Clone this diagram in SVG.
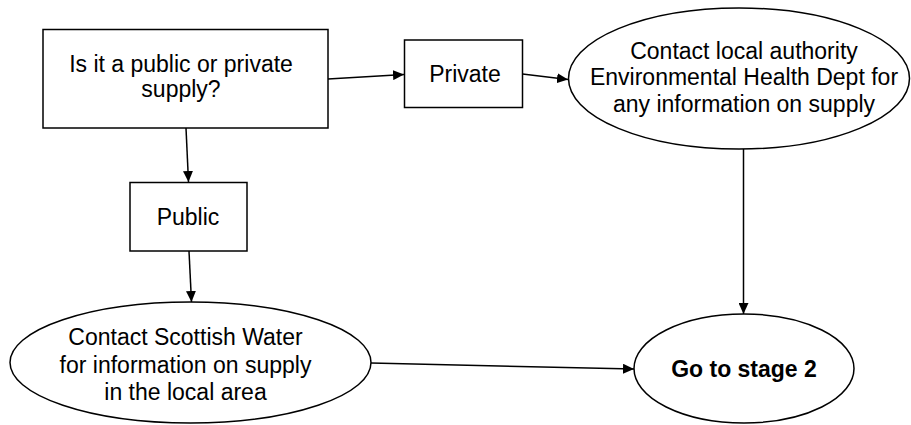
<svg xmlns="http://www.w3.org/2000/svg" width="911" height="425" viewBox="0 0 911 425">
  <style>
    .shape { fill: #ffffff; stroke: #000000; stroke-width: 1.5; }
    .link { fill: none; stroke: #000000; stroke-width: 1.5; marker-end: url(#arrow); }
    text { font-family: "Liberation Sans", Arial, sans-serif; font-size: 23px; fill: #000000; text-anchor: middle; }
    .bold { font-weight: bold; }
  </style>
  <defs>
    <marker id="arrow" markerUnits="userSpaceOnUse" markerWidth="12" markerHeight="10" refX="11" refY="5" orient="auto">
      <path d="M0,0 L11,5 L0,10 Z" fill="#000000"/>
    </marker>
  </defs>
  <rect width="911" height="425" fill="#ffffff"/>

  <!-- connectors -->
  <g id="connectors">
    <line class="link" x1="328" y1="79" x2="404" y2="74.5"/>
    <line class="link" x1="522.5" y1="74" x2="568" y2="79.5"/>
    <line class="link" x1="186" y1="128" x2="188.5" y2="182"/>
    <line class="link" x1="189" y1="251" x2="191.5" y2="302"/>
    <line class="link" x1="743.5" y1="149" x2="743.5" y2="314"/>
    <line class="link" x1="371" y1="363" x2="634" y2="369"/>
  </g>

  <g id="question">
    <rect class="shape" x="43" y="29.5" width="285" height="98.5"/>
    <text x="181" y="71.5">Is it a public or private</text>
    <text x="181" y="97">supply?</text>
  </g>

  <g id="private">
    <rect class="shape" x="404.5" y="40" width="118" height="67.5"/>
    <text x="465" y="81.5">Private</text>
  </g>

  <g id="public">
    <rect class="shape" x="130" y="182.5" width="117" height="68.5"/>
    <text x="188" y="224.5">Public</text>
  </g>

  <g id="contact-authority">
    <ellipse class="shape" cx="739" cy="78.5" rx="170.5" ry="70.5"/>
    <text x="744" y="58.5">Contact local authority</text>
    <text x="744" y="85">Environmental Health Dept for</text>
    <text x="744" y="112">any information on supply</text>
  </g>

  <g id="contact-water">
    <ellipse class="shape" cx="190.5" cy="362.5" rx="180.5" ry="60.5"/>
    <text x="185.5" y="345">Contact Scottish Water</text>
    <text x="185.5" y="372.5">for information on supply</text>
    <text x="185.5" y="400">in the local area</text>
  </g>

  <g id="stage-2">
    <ellipse class="shape" cx="744" cy="368.5" rx="110" ry="54.5"/>
    <text class="bold" x="744" y="376.5">Go to stage 2</text>
  </g>
</svg>
